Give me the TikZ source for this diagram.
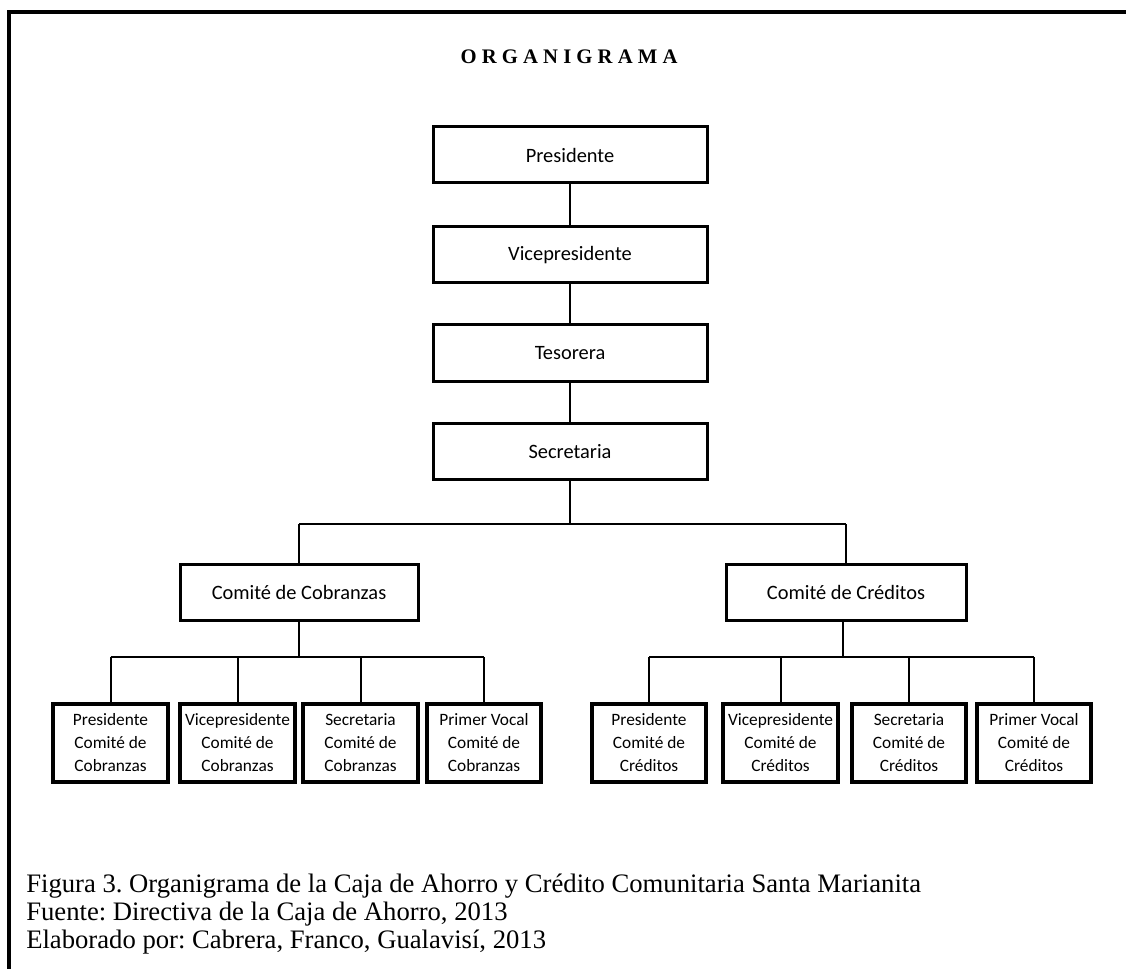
\documentclass[tikz,border=0pt]{standalone}
\usepackage{fontspec}
\setmainfont{Liberation Serif}
\newfontfamily\boxfont{Carlito}
\frenchspacing
\begin{document}
\begin{tikzpicture}[x=0.75pt,y=-0.75pt,
  conn/.style={line width=1.5pt},
  topbox/.style={draw, line width=2.25pt, minimum width=205.5pt, minimum height=42pt, inner sep=0pt, outer sep=0pt, font=\boxfont\fontsize{15.3}{18}\selectfont},
  combox/.style={draw, line width=2.25pt, minimum height=42pt, inner sep=0pt, outer sep=0pt, font=\boxfont\fontsize{15.3}{18}\selectfont},
  leafbox/.style={draw, line width=3pt, minimum width=86pt, minimum height=58.5pt, inner sep=0pt, outer sep=0pt, align=center, font=\boxfont\fontsize{13}{17.25}\selectfont},
  captxt/.style={anchor=base west, inner sep=0pt, font=\fontsize{20}{21}\selectfont}]
\useasboundingbox (0,0) rectangle (1126,969);
\fill[white] (0,0) rectangle (1126,969);
\draw[line width=3pt] (9,969) -- (9,12) -- (1126,12);
\node (title) at (569,57) {\fontsize{15.5}{18}\selectfont\bfseries O R G A N I G R A M A};
\node[topbox] (pres) at (570,155) {Presidente};
\node[topbox] (vice) at (570,255) {Vicepresidente};
\node[topbox] (teso) at (570,353) {Tesorera};
\node[topbox] (secr) at (570,451.5) {Secretaria};
\node[combox, minimum width=178.5pt] (cc) at (299,592) {Comité de Cobranzas};
\node[combox, minimum width=180pt] (cr) at (846,592) {Comité de Créditos};
\node[leafbox] (c1) at (110.5,743) {Presidente\\Comité de\\Cobranzas};
\node[leafbox] (c2) at (237.5,743) {Vicepresidente\\Comité de\\Cobranzas};
\node[leafbox] (c3) at (360.5,743) {Secretaria\\Comité de\\Cobranzas};
\node[leafbox] (c4) at (484,743) {Primer Vocal\\Comité de\\Cobranzas};
\node[leafbox] (r1) at (649,743) {Presidente\\Comité de\\Créditos};
\node[leafbox] (r2) at (780.5,743) {Vicepresidente\\Comité de\\Créditos};
\node[leafbox] (r3) at (909,743) {Secretaria\\Comité de\\Créditos};
\node[leafbox] (r4) at (1034,743) {Primer Vocal\\Comité de\\Créditos};
\coordinate (topbus) at (570,524);
\coordinate (lbus) at (299,657);
\coordinate (rbus) at (843,657);
\draw[conn] (pres) -- (vice);
\draw[conn] (vice) -- (teso);
\draw[conn] (teso) -- (secr);
\draw[conn] (secr.south) -- (topbus);
\draw[conn] (cc.north |- topbus) -- (cr.north |- topbus);
\draw[conn] (cc.north |- topbus) -- (cc.north);
\draw[conn] (cr.north |- topbus) -- (cr.north);
\draw[conn] (cc.south) -- (cc.south |- lbus);
\draw[conn] (c1.north |- lbus) -- (c4.north |- lbus);
\foreach \b in {c1,c2,c3,c4} \draw[conn] (\b.north |- lbus) -- (\b.north);
\draw[conn] (cr.south -| rbus) -- (rbus);
\draw[conn] (r1.north |- rbus) -- (r4.north |- rbus);
\foreach \b in {r1,r2,r3,r4} \draw[conn] (\b.north |- rbus) -- (\b.north);
\node[captxt] (cap1) at (26,892) {Figura 3. Organigrama de la Caja de Ahorro y Crédito Comunitaria Santa Marianita};
\node[captxt] (cap2) at (26,920) {Fuente: Directiva de la Caja de Ahorro, 2013};
\node[captxt] (cap3) at (26,948) {Elaborado por: Cabrera, Franco, Gualavisí, 2013};
\end{tikzpicture}
\end{document}
